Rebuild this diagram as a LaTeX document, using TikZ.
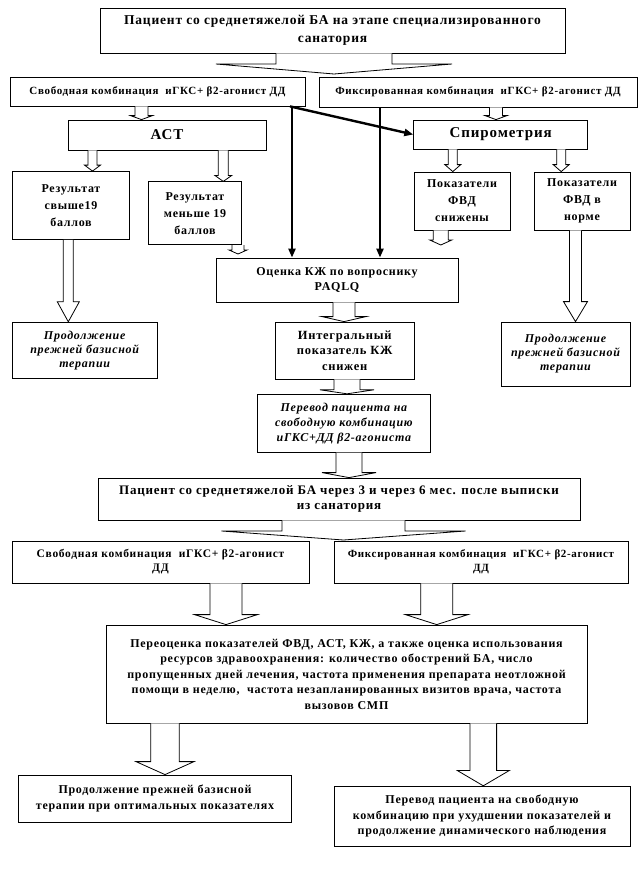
\documentclass[tikz,border=0pt]{standalone}
\usepackage{fontspec}
\setmainfont[LetterSpace=6]{Liberation Serif}
\usetikzlibrary{calc,arrows.meta}
\newcommand{\fs}[2]{\fontsize{#1}{#2}\selectfont}
% outlined block arrow: start, tip, shaft half width, head half width, head length
\newcommand{\blockarr}[5]{%
  \draw[fill=white, line width=0.8pt] let \p1=#1, \p2=#2 in
    (\x1-#3pt,\y1) -- (\x1-#3pt,\y2+#5pt) -- (\x1-#4pt,\y2+#5pt) -- (\x1,\y2)
    -- (\x1+#4pt,\y2+#5pt) -- (\x1+#3pt,\y2+#5pt) -- (\x1+#3pt,\y1);}

\begin{document}
\begin{tikzpicture}[x=1pt,y=-1pt,
  box/.style={draw, line width=0.8pt, align=center, inner sep=0pt},
  thickarr/.style={line width=2.4pt, -{Triangle[length=9pt,width=7pt]}}]
  \useasboundingbox (0,0) rectangle (643,875);
  % sanatorium stage
  \node [box, minimum width=465pt, minimum height=45pt, font=\fs{13.5}{18}\bfseries] (top) at (332.5,30.5)
    {Пациент со среднетяжелой БА на этапе специализированного\\санатория};
  \node [box, minimum width=295pt, minimum height=29pt, font=\fs{11}{13}\bfseries] (freeL) at (157.5,91.5)
    {Свободная комбинация\ \ иГКС+ β2-агонист ДД};
  \node [box, minimum width=318pt, minimum height=30pt, font=\fs{11}{13}\bfseries] (fixR) at (478,92)
    {Фиксированная комбинация\ \ иГКС+ β2-агонист ДД};
  \node [box, minimum width=198pt, minimum height=30pt, font=\fs{15}{17}\bfseries] (ast) at (167,135) {АСТ};
  \node [box, minimum width=174pt, minimum height=29pt, font=\fs{15}{17}\bfseries] (spiro) at (500.7,134.5) {Спирометрия};
  \node [box, minimum width=117pt, minimum height=68pt, font=\fs{12}{17}\bfseries] (res1) at (71,205.5)
    {Результат\\свыше19\\баллов};
  \node [box, minimum width=93pt, minimum height=63pt, font=\fs{12}{17}\bfseries] (res2) at (195,213.3)
    {Результат\\меньше 19\\баллов};
  \node [box, minimum width=96pt, minimum height=58pt, font=\fs{12}{17}\bfseries] (fvd1) at (462,201)
    {Показатели\\ФВД\\снижены};
  \node [box, minimum width=96pt, minimum height=58pt, font=\fs{12}{17}\bfseries] (fvd2) at (582,201)
    {Показатели\\ФВД в\\норме};
  \node [box, minimum width=242pt, minimum height=44pt, font=\fs{12}{15}\bfseries] (qol) at (337,280)
    {Оценка КЖ по вопроснику\\PAQLQ};
  \node [box, minimum width=145pt, minimum height=56pt, font=\fs{12}{14}\bfseries\itshape] (cont1) at (84.7,350.2)
    {Продолжение\\прежней базисной\\терапии};
  \node [box, minimum width=139pt, minimum height=57pt, font=\fs{12.5}{15.3}\bfseries] (integ) at (344.7,350.5)
    {Интегральный\\показатель КЖ\\снижен};
  \node [box, minimum width=129pt, minimum height=64pt, font=\fs{12}{14}\bfseries\itshape] (cont2) at (565.5,354)
    {Продолжение\\прежней базисной\\терапии};
  \node [box, minimum width=173pt, minimum height=58pt, font=\fs{12}{15}\bfseries\itshape] (switch) at (343.9,423.2)
    {Перевод пациента на\\свободную комбинацию\\иГКС+ДД β2-агониста};
  % follow-up stage
  \node [box, minimum width=482pt, minimum height=42pt, font=\fs{13}{15}\bfseries] (follow) at (339,499)
    {Пациент со среднетяжелой БА через 3 и через 6 мес. после выписки\\из санатория};
  \node [box, minimum width=297pt, minimum height=42pt, font=\fs{11.5}{14}\bfseries] (freeL2) at (160.5,562)
    {Свободная комбинация\ \ иГКС+ β2-агонист\\ДД};
  \node [box, minimum width=294pt, minimum height=42pt, font=\fs{11}{14}\bfseries] (fixR2) at (481,562)
    {Фиксированная комбинация\ \ иГКС+ β2-агонист\\ДД};
  \node [box, minimum width=481pt, minimum height=98pt, font=\fs{12}{15.5}\bfseries] (review) at (346.5,674)
    {Переоценка показателей ФВД, АСТ, КЖ, а также оценка использования\\
     ресурсов здравоохранения: количество обострений БА, число\\
     пропущенных дней лечения, частота применения препарата неотложной\\
     помощи в неделю,\ \ частота незапланированных визитов врача, частота\\
     вызовов СМП};
  \node [box, minimum width=273pt, minimum height=47pt, font=\fs{12}{16}\bfseries] (final1) at (155,798.5)
    {Продолжение прежней базисной\\терапии при оптимальных показателях};
  \node [box, minimum width=296pt, minimum height=60pt, font=\fs{12}{15.3}\bfseries] (final2) at (482,816.2)
    {Перевод пациента на свободную\\комбинацию при ухудшении показателей и\\продолжение динамического наблюдения};
  % free arrow ends
  \coordinate (split1) at (334,74);
  \coordinate (split2) at (343.5,540);
  \coordinate (res2tip) at (238,254);
  \coordinate (fvd1tip) at (440.8,245);
  % block arrows
  \blockarr{(334,0 |- top.south)}{(split1)}{58}{118}{10}
  \blockarr{(141.5,0 |- freeL.south)}{(141.5,0 |- ast.north)}{6.5}{11}{4}
  \blockarr{(496,0 |- fixR.south)}{(496,0 |- spiro.north)}{6.5}{11}{4}
  \blockarr{(92.5,0 |- ast.south)}{(92.5,0 |- res1.north)}{4.5}{8}{6}
  \blockarr{(223.3,0 |- ast.south)}{(223.3,0 |- res2.north)}{5}{8.5}{6}
  \blockarr{(452.8,0 |- spiro.south)}{(452.8,0 |- fvd1.north)}{4.5}{8}{7}
  \blockarr{(561.2,0 |- spiro.south)}{(561.2,0 |- fvd2.north)}{4.5}{8}{7}
  \blockarr{(238,0 |- res2.south)}{(res2tip)}{6}{9}{4}
  \blockarr{(440.8,0 |- fvd1.south)}{(fvd1tip)}{7.5}{11}{5}
  \blockarr{(68.3,0 |- res1.south)}{(68.3,0 |- cont1.north)}{5}{11}{20}
  \blockarr{(575.5,0 |- fvd2.south)}{(575.5,0 |- cont2.north)}{6}{12}{20}
  \blockarr{(344,0 |- qol.south)}{(344,0 |- integ.north)}{11}{22}{5}
  \blockarr{(347,0 |- integ.south)}{(347,0 |- switch.north)}{13}{27}{4}
  \blockarr{(349,0 |- switch.south)}{(349,0 |- follow.north)}{13}{27}{5}
  \blockarr{(343.5,0 |- follow.south)}{(split2)}{61.5}{122}{9}
  \blockarr{(226,0 |- freeL2.south)}{(226,0 |- review.north)}{16}{31.5}{10}
  \blockarr{(436.7,0 |- fixR2.south)}{(436.7,0 |- review.north)}{16}{31.3}{10}
  \blockarr{(165,0 |- review.south)}{(165,0 |- final1.north)}{14.3}{29}{13}
  \blockarr{(483.3,0 |- review.south)}{(483.3,0 |- final2.north)}{13.3}{26}{15.3}
  % thick arrows
  \draw [thickarr] (290,0 |- freeL.south) -- (spiro.west);
  \draw [thickarr] (292,0 |- freeL.south) -- (292,0 |- qol.north);
  \draw [thickarr] (380,0 |- fixR.south) -- (380,0 |- qol.north);
\end{tikzpicture}
\end{document}
